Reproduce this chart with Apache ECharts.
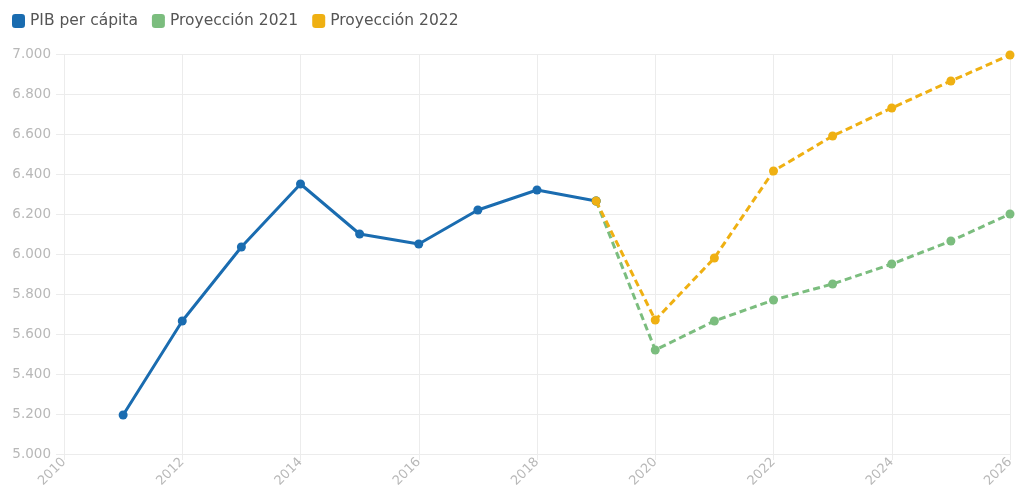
<!DOCTYPE html>
<html>
<head>
<meta charset="utf-8">
<script src="https://cdn.jsdelivr.net/npm/echarts@6/dist/echarts.min.js"></script>
<style>
  html, body { margin: 0; padding: 0; background: #fff; }
  #main { width: 1020px; height: 493px; }
</style>
</head>
<body>
<div id="main"></div>
<script>
// datos
var yearsPib = [2011, 2012, 2013, 2014, 2015, 2016, 2017, 2018, 2019];
var pib = [5195, 5665, 6035, 6350, 6100, 6050, 6220, 6320, 6265];
var yearsProj = [2019, 2020, 2021, 2022, 2023, 2024, 2025, 2026];
var proy2021 = [6265, 5520, 5665, 5770, 5850, 5950, 6065, 6200];
var proy2022 = [6265, 5670, 5980, 6415, 6590, 6730, 6865, 6995];

function pairs(xs, ys) {
	return xs.map(function (x, i) { return [x, ys[i]]; });
}
function miles(v) {
	return String(v).replace(/\B(?=(\d{3})+(?!\d))/g, '.');
}

var gridColor = '#ececec';
var myChart = echarts.init(document.getElementById('main'));
var option = {
	animation: false,
	color: ['#1a6cb0', '#7bbd7e', '#efb012'],
	textStyle: { fontFamily: '"DejaVu Sans", sans-serif' },
	legend: {
		left: 7,
		top: 8,
		itemWidth: 13,
		itemHeight: 14,
		itemGap: 14,
		icon: 'roundRect',
		textStyle: { color: '#555', fontSize: 15.5 },
		data: ['PIB per cápita', 'Proyección 2021', 'Proyección 2022']
	},
	grid: {
		left: 64,
		right: 10,
		top: 54,
		bottom: 39
	},
	xAxis: {
		type: 'value',
		min: 2010,
		max: 2026,
		interval: 2,
		axisLine: { show: true, lineStyle: { color: gridColor } },
		axisTick: { show: true, length: 6, lineStyle: { color: gridColor } },
		splitLine: { show: true, lineStyle: { color: gridColor } },
		axisLabel: {
			rotate: 45,
			color: '#b8b8b8',
			fontSize: 13,
			margin: 6,
			formatter: function (v) { return String(v); }
		}
	},
	yAxis: {
		type: 'value',
		min: 5000,
		max: 7000,
		interval: 200,
		axisLine: { show: false },
		axisTick: { show: true, length: 8, lineStyle: { color: gridColor } },
		splitLine: { show: true, lineStyle: { color: gridColor } },
		axisLabel: {
			color: '#b8b8b8',
			fontSize: 13.5,
			margin: 13,
			formatter: miles
		}
	},
	series: [{
		name: 'PIB per cápita',
		type: 'line',
		symbol: 'circle',
		symbolSize: 9,
		lineStyle: { width: 3 },
		data: pairs(yearsPib, pib),
		z: 3
	}, {
		name: 'Proyección 2021',
		type: 'line',
		symbol: 'circle',
		symbolSize: 9,
		lineStyle: { width: 3, type: [7, 4] },
		data: pairs(yearsProj, proy2021),
		z: 2
	}, {
		name: 'Proyección 2022',
		type: 'line',
		symbol: 'circle',
		symbolSize: 9,
		lineStyle: { width: 3, type: [7, 4] },
		data: pairs(yearsProj, proy2022),
		z: 4
	}]
};
myChart.setOption(option);
</script>
</body>
</html>
